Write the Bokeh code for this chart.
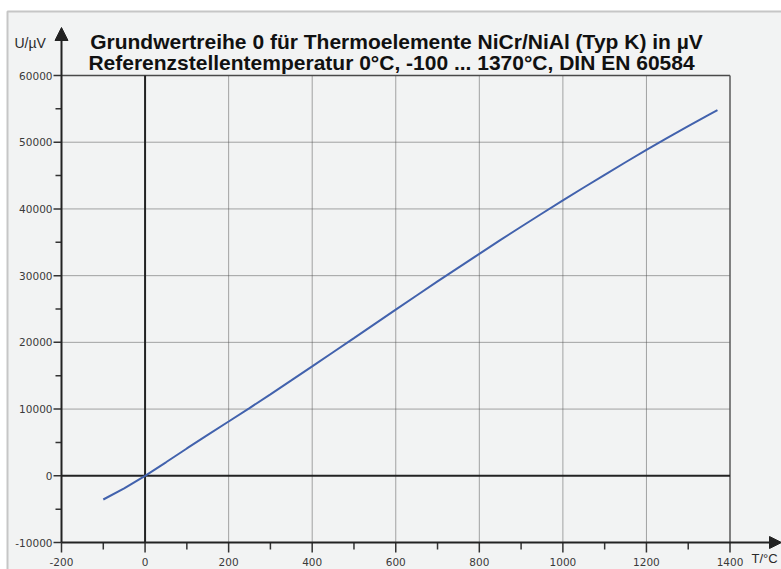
import math
from bokeh.plotting import figure
from bokeh.models import Range1d, Arrow, NormalHead
from bokeh.core.properties import value
from bokeh.embed import file_html
from bokeh.resources import INLINE

# ---- data: Grundwertreihe Typ K (µV) ----
temps = [-100, -50, 0, 50, 100, 150, 200, 250, 300, 350, 400, 450, 500, 550, 600,
         650, 700, 750, 800, 850, 900, 950, 1000, 1050, 1100, 1150, 1200, 1250,
         1300, 1350, 1370]
volts = [-3554, -1889, 0, 2023, 4096, 6138, 8138, 10153, 12209, 14293, 16397,
         18516, 20644, 22776, 24905, 27025, 29129, 31213, 33275, 35313, 37326,
         39314, 41276, 43211, 45119, 46995, 48838, 50644, 52410, 54138, 54819]

x_major = [-200, 0, 200, 400, 600, 800, 1000, 1200, 1400]
x_minor = [-100, 100, 300, 500, 700, 900, 1100, 1300]
y_major = [-10000, 0, 10000, 20000, 30000, 40000, 50000, 60000]
y_minor = [-5000, 5000, 15000, 25000, 35000, 45000, 55000]
x_labels = [str(v) for v in x_major]
y_labels = [str(v) for v in y_major]
grid_x_dotted = [200, 400, 600, 800, 1000, 1200]
grid_y_dotted = [10000, 20000, 30000, 40000, 50000]

title1 = "Grundwertreihe 0 für Thermoelemente NiCr/NiAl (Typ K) in µV"
title2 = "Referenzstellentemperatur 0°C, -100 ... 1370°C, DIN EN 60584"
y_name = "U/µV"
x_name = "T/°C"

X_MIN, X_MAX = -200, 1400
Y_MIN, Y_MAX = -10000, 60000

# ---- layout: map the plot box onto the canvas ----
W, H = 781, 569
LEFT, RIGHT, TOP, BOTTOM = 61, 729.5, 75, 542     # pixel frame of the diagram box
SX = (RIGHT - LEFT) / (X_MAX - X_MIN)
SY = (BOTTOM - TOP) / (Y_MAX - Y_MIN)
x_start = X_MIN - LEFT / SX
x_end = X_MIN + (W - LEFT) / SX
y_end = Y_MAX + TOP / SY
y_start = Y_MIN - (H - BOTTOM) / SY


def px(xp):
    return x_start + xp / SX


def py(yp):
    return y_end - yp / SY


BG = "#f2f3f3"
AX = "#222222"
FONT_T = value("Liberation Sans")
FONT_N = value("DejaVu Sans")

p = figure(width=W, height=H, output_backend="svg", toolbar_location=None,
           x_range=Range1d(x_start, x_end), y_range=Range1d(y_start, y_end),
           x_axis_location=None, y_axis_location=None,
           min_border=0, min_border_left=0, min_border_right=0,
           min_border_top=0, min_border_bottom=0)
p.background_fill_color = "white"
p.border_fill_color = "white"
p.outline_line_color = None
p.grid.visible = False

# grey panel with light border
p.quad(left=[px(7)], right=[px(800)], top=[py(11)], bottom=[py(600)],
       fill_color=BG, line_color="#c6c6c6", line_width=2)

# grid
n = len(grid_x_dotted)
p.segment(x0=grid_x_dotted, y0=[Y_MIN] * n, x1=grid_x_dotted, y1=[Y_MAX] * n,
          line_color="#505050", line_width=1, line_dash="1 1")
m = len(grid_y_dotted)
p.segment(x0=[X_MIN] * m, y0=grid_y_dotted, x1=[X_MAX] * m, y1=grid_y_dotted,
          line_color="#505050", line_width=1, line_dash="1 1")
# frame lines top / right
p.segment(x0=[X_MIN], y0=[Y_MAX], x1=[X_MAX], y1=[Y_MAX], line_color="#4a4a4a", line_width=1.5)
p.segment(x0=[X_MAX], y0=[Y_MIN], x1=[X_MAX], y1=[Y_MAX], line_color="#5a5a5a", line_width=1.5)
# zero lines
p.segment(x0=[0], y0=[Y_MIN], x1=[0], y1=[Y_MAX], line_color="#222222", line_width=2)
p.segment(x0=[X_MIN], y0=[0], x1=[X_MAX], y1=[0], line_color="#222222", line_width=2)

# data line
p.line(temps, volts, line_color="#4262ad", line_width=2)

# axes (lines with arrows)
p.add_layout(Arrow(end=NormalHead(size=13, fill_color=AX, line_color=AX, line_width=1),
                   x_start=X_MIN, y_start=Y_MIN, x_end=X_MIN, y_end=py(27),
                   line_color=AX, line_width=2))
p.add_layout(Arrow(end=NormalHead(size=12, fill_color=AX, line_color=AX, line_width=1),
                   x_start=X_MIN, y_start=Y_MIN, x_end=x_end, y_end=Y_MIN,
                   line_color=AX, line_width=2))

# ticks
p.ray(x=x_major, y=[Y_MIN] * len(x_major), length=10, length_units="screen",
      angle=-math.pi / 2, line_color="#333333", line_width=1.5)
p.ray(x=x_minor, y=[Y_MIN] * len(x_minor), length=7, length_units="screen",
      angle=-math.pi / 2, line_color="#333333", line_width=1.5)
p.ray(x=[X_MIN] * len(y_major), y=y_major, length=8, length_units="screen",
      angle=math.pi, line_color="#333333", line_width=1.5)
p.ray(x=[X_MIN] * len(y_minor), y=y_minor, length=6, length_units="screen",
      angle=math.pi, line_color="#333333", line_width=1.5)

# tick labels
p.text(x=x_major, y=[Y_MIN] * len(x_major), text=x_labels, y_offset=19,
       text_align="center", text_baseline="middle", text_font=FONT_N,
       text_font_size="10.5px", text_color="#3a3a3a")
p.text(x=[X_MIN] * len(y_major), y=y_major, text=y_labels, x_offset=-9,
       text_align="right", text_baseline="middle", text_font=FONT_N,
       text_font_size="10.5px", text_color="#3a3a3a")

# titles and axis names
p.text(x=[px(396)], y=[py(40.5)], text=[title1], text_align="center",
       text_baseline="alphabetic", text_font=FONT_T, text_font_style="bold",
       text_font_size="21px", text_color="#111111")
p.text(x=[px(391)], y=[py(62)], text=[title2], text_align="center",
       text_baseline="alphabetic", text_font=FONT_T, text_font_style="bold",
       text_font_size="21px", text_color="#111111")
p.text(x=[px(14)], y=[py(42)], text=[y_name], text_align="left",
       text_baseline="alphabetic", text_font=FONT_T, text_font_size="14px",
       text_color="#2a2a2a")
p.text(x=[px(751)], y=[py(558)], text=[x_name], text_align="left",
       text_baseline="middle", text_font=FONT_T, text_font_size="13px",
       text_color="#2a2a2a")

open("out.html", "w").write(file_html(p, INLINE))
